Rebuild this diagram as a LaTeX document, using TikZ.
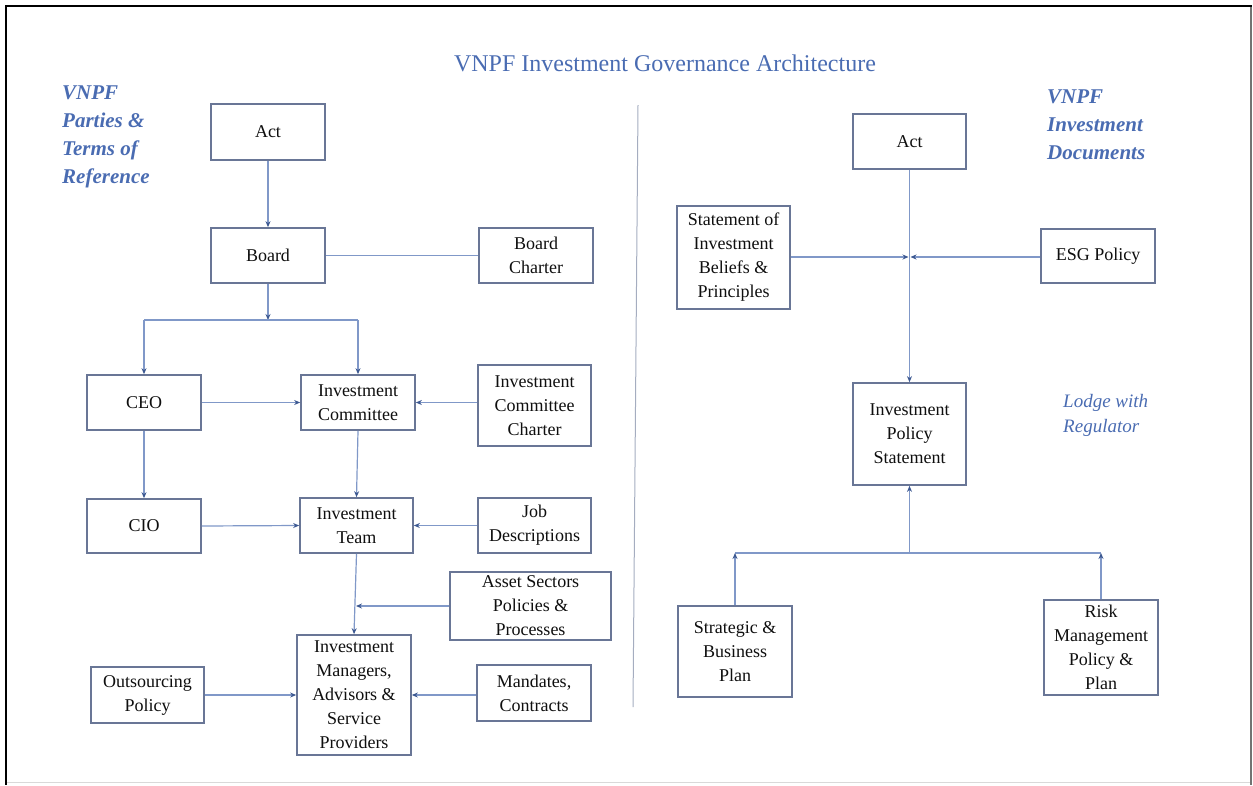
\documentclass[tikz,border=0pt]{standalone}
\usepackage{fontspec}
\setmainfont{Liberation Serif}
\usetikzlibrary{arrows.meta}
\definecolor{ttl}{RGB}{74,108,178}
\definecolor{boxc}{RGB}{105,118,150}
\definecolor{linec}{RGB}{128,152,200}
\definecolor{tipc}{RGB}{60,88,145}
\definecolor{txt}{RGB}{15,15,15}
\begin{document}
\begin{tikzpicture}[x=1pt,y=-1pt,
  box/.style 2 args={draw=boxc, line width=1.7pt, fill=white, align=center, inner sep=1pt,
    minimum width=#1, minimum height=#2, text=txt, font=\fontsize{18}{24}\selectfont},
  ln/.style={draw=linec, line width=1.2pt},
  arr/.style={ln, -{Stealth[length=6pt,width=5pt,color=tipc]}},
  side/.style={text=ttl, align=left, inner sep=0pt, font=\fontsize{21}{28}\selectfont\bfseries\itshape},
  note/.style={text=ttl, align=left, inner sep=0pt, font=\fontsize{19}{25}\selectfont\itshape},
  frameblack/.style={draw=black, line width=1.6pt},
  framegray/.style={draw=black!55, line width=1.2pt},
  framelight/.style={draw=black!15, line width=1pt}]
\useasboundingbox (0,0) rectangle (1253,785);
% frame
\draw[framelight] (6,782) -- (1251,782);
\draw[framegray] (1251,6) -- (1251,785);
\draw[frameblack] (5,6) -- (1252,6);
\draw[frameblack] (6,5) -- (6,785);
% divider
\draw[ln, line width=1pt, draw=boxc!60] (638,105) -- (633,707);
% title and labels
\node[text=ttl, inner sep=0pt, font=\fontsize{24}{28}\selectfont] (title) at (665,63) {VNPF Investment Governance Architecture};
\node[side, anchor=west] (lblL) at (62,137) {VNPF\\Parties \&\\Terms of\\Reference};
\node[side, anchor=west] (lblR) at (1047,125) {VNPF\\Investment\\Documents};
\node[note, anchor=west] (lodge) at (1063,415) {Lodge with\\Regulator};
% left boxes
\node[box={114}{56}] (actL) at (268,132) {Act};
\node[box={114}{55}] (board) at (268,255.5) {Board};
\node[box={114}{55}] (bch) at (536,255.5) {Board\\Charter};
\node[box={114}{55}] (ceo) at (144,402.5) {CEO};
\node[box={114}{55}] (ic) at (358,402.5) {Investment\\Committee};
\node[box={113}{81}] (icc) at (534.5,405.5) {Investment\\Committee\\Charter};
\node[box={114}{54}] (cio) at (144,526) {CIO};
\node[box={113}{55}] (team) at (356.5,525.5) {Investment\\Team};
\node[box={113}{55}] (job) at (534.5,525.5) {Job\\Descriptions};
\node[box={161}{68}] (asset) at (530.5,606) {Asset Sectors\\Policies \&\\Processes};
\node[box={114}{120}] (mgr) at (354,695) {Investment\\Managers,\\Advisors \&\\Service\\Providers};
\node[box={113}{56}] (outs) at (147.5,695) {Outsourcing\\Policy};
\node[box={114}{56}] (mand) at (534,693) {Mandates,\\Contracts};
% right boxes
\node[box={113}{55}] (actR) at (909.5,141.5) {Act};
\node[box={113}{103}] (sib) at (733.5,257.5) {Statement of\\Investment\\Beliefs \&\\Principles};
\node[box={114}{54}] (esg) at (1098,256) {ESG Policy};
\node[box={113}{102}] (ips) at (909.5,434) {Investment\\Policy\\Statement};
\node[box={114}{91}] (strat) at (735,651.5) {Strategic \&\\Business\\Plan};
\node[box={114}{95}] (risk) at (1101,647.5) {Risk\\Management\\Policy \&\\Plan};
% junction coordinates
\coordinate (jB) at (268,320);
\coordinate (jA) at (356,606);
\coordinate (jS) at (909.5,257);
\coordinate (jI) at (909.5,553);
% left connectors
\draw[arr] (actL.south) -- (board.north);
\draw[ln] (board.east) -- (bch.west);
\draw[arr] (board.south) -- (jB);
\draw[ln] (ceo.north |- jB) -- (ic.north |- jB);
\draw[arr] (ceo.north |- jB) -- (ceo.north);
\draw[arr] (ic.north |- jB) -- (ic.north);
\draw[arr] (ceo.east) -- (ic.west);
\draw[arr] (icc.west |- ic.east) -- (ic.east);
\draw[arr] (ceo.south) -- (cio.north);
\draw[arr] (ic.south) -- (team.north);
\draw[arr] (cio.east) -- (team.west);
\draw[arr] (job.west) -- (team.east);
\draw[arr] (team.south) -- (mgr.north);
\draw[arr] (asset.west) -- (jA);
\draw[arr] (outs.east) -- (mgr.west);
\draw[arr] (mand.west |- mgr.east) -- (mgr.east);
% right connectors
\draw[arr] (actR.south) -- (ips.north);
\draw[arr] (sib.east |- jS) -- ([xshift=-1pt]jS);
\draw[arr] (esg.west |- jS) -- ([xshift=1pt]jS);
\draw[arr] (jI) -- (ips.south);
\draw[ln] (strat.north |- jI) -- (risk.north |- jI);
\draw[arr] (strat.north) -- (strat.north |- jI);
\draw[arr] (risk.north) -- (risk.north |- jI);
\end{tikzpicture}
\end{document}
